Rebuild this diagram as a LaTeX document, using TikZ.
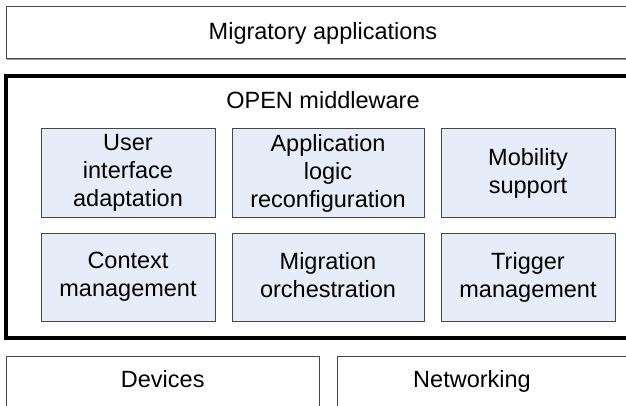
\documentclass[tikz,border=0pt]{standalone}
\usepackage{fontspec}
\setmainfont{Liberation Sans}
\usetikzlibrary{shadows}
\definecolor{modfill}{RGB}{230,236,248}
\definecolor{boxline}{RGB}{70,70,70}
\tikzset{
    layer/.style={draw=boxline, line width=1pt, fill=white, inner sep=0pt,
        drop shadow={shadow xshift=1pt, shadow yshift=-1pt, fill=black!40, opacity=1}},
    modbox/.style={layer, fill=modfill, minimum height=88pt, align=center},
    txt/.style={font=\fontsize{23.5}{28}\selectfont, align=center, text depth=5pt}
}
\begin{document}
\begin{tikzpicture}[x=1pt,y=1pt,every node/.append style={txt}]
    \useasboundingbox (0,0) rectangle (626,405);
    % top layer
    \node[layer, minimum width=634pt, minimum height=52pt] (apps) at (323,372) {Migratory applications};

    % middleware frame
    \draw[line width=3.5pt] (6,329) rectangle (640,67);
    \node (mw) at (323,303) {OPEN middleware};

    \foreach \name/\x/\y/\w/\label in {ui/128/232/174/{User\\interface\\adaptation},
                                       logic/328/232/192/{Application\\logic\\reconfiguration},
                                       mob/528/232/174/{Mobility\\support},
                                       ctx/128/128/174/{Context\\management},
                                       orch/328/128/192/{Migration\\orchestration},
                                       trig/528/128/174/{Trigger\\management}}
        \node[modbox, minimum width=\w pt] (\name) at (\x,\y) {\label};

    % bottom layer
    \node[layer, minimum width=312.5pt, minimum height=50pt] (dev) at (162.75,24) {Devices};
    \node[layer, minimum width=313pt, minimum height=50pt] (netbox) at (493.5,24) {};
    \node (net) at (472,24) {Networking};
\end{tikzpicture}
\end{document}
